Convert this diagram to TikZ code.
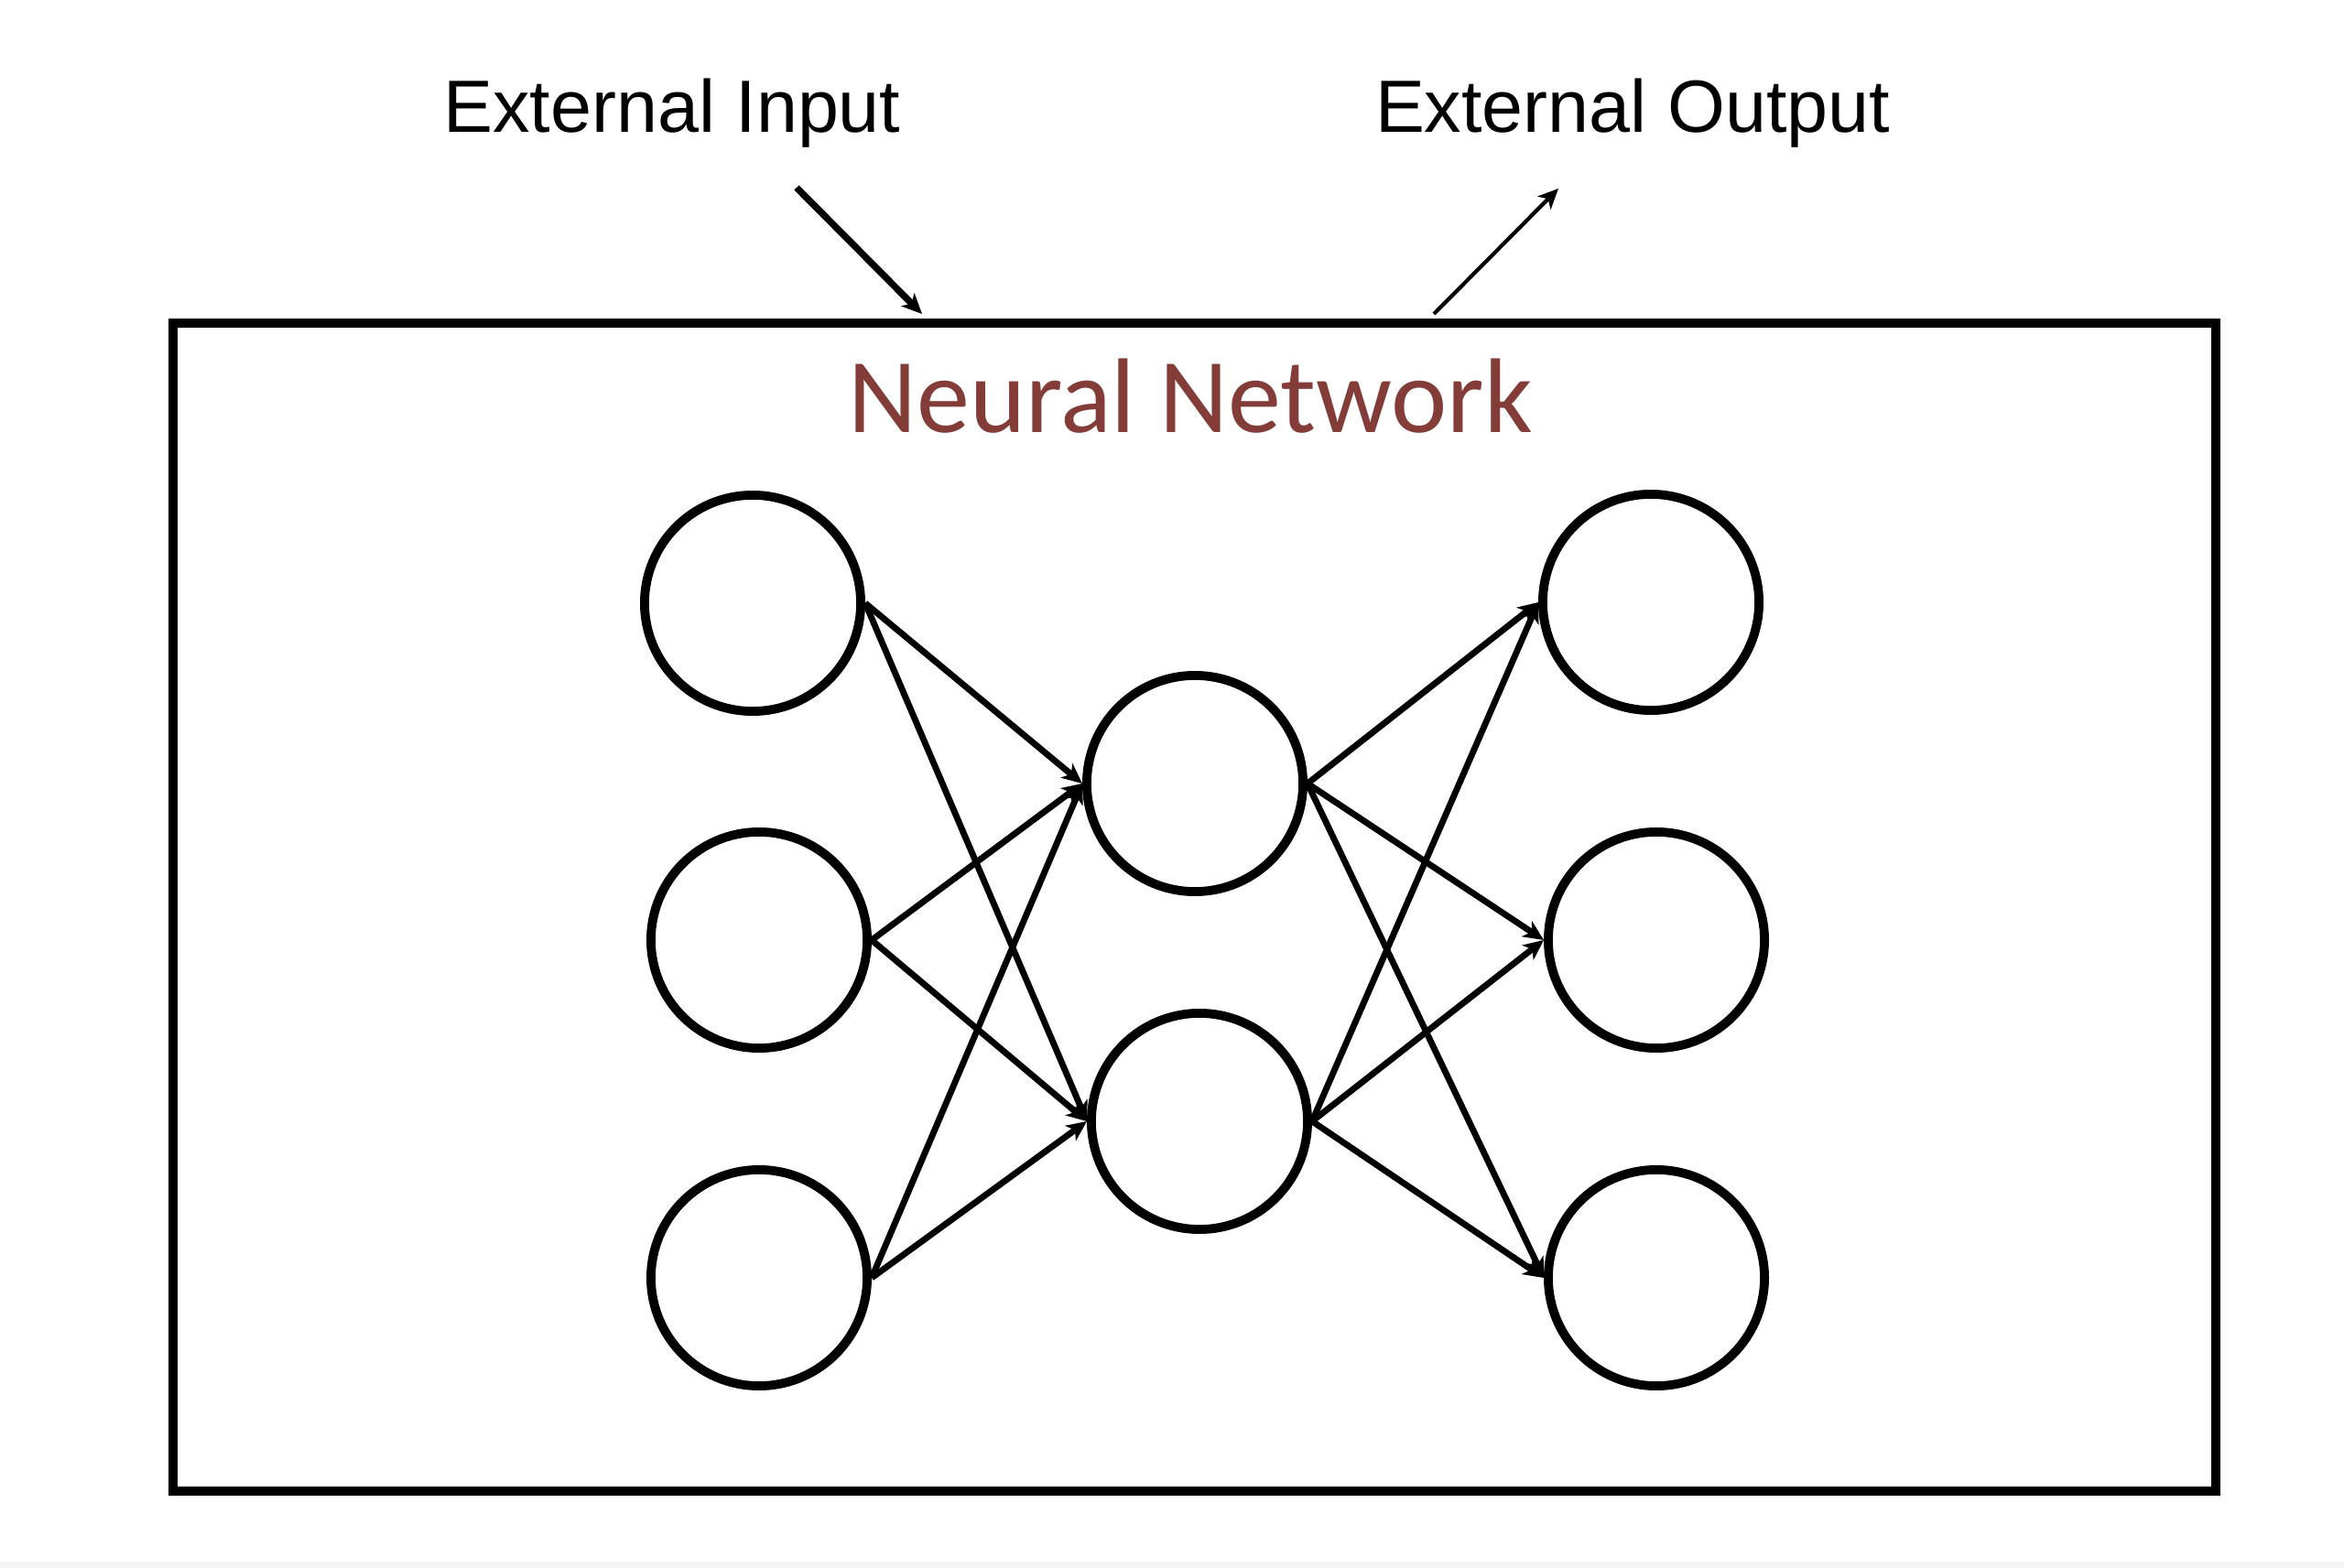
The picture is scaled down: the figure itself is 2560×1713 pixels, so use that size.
\documentclass[tikz,border=0pt]{standalone}
\usepackage{fontspec}
\setmainfont{Liberation Sans}
\newfontfamily\calibfont{Carlito}
\usetikzlibrary{arrows.meta}
\definecolor{nnred}{RGB}{132,60,57}
\begin{document}
\begin{tikzpicture}[x=0.01cm,y=-0.01cm,
  neuron/.style={circle,draw,line width=2.8pt,minimum size=2.36cm,inner sep=0pt},
  tipstyle/.style={-{Stealth[length=0.22cm,width=0.2cm,inset=0.06cm]}},
  conn/.style={tipstyle,line width=1.95pt},
  extlabel/.style={anchor=base,inner sep=0pt,font=\fontsize{23}{28}\selectfont},
  netbox/.style={draw,line width=2.85pt,rectangle,inner sep=0pt,anchor=north west}
]
\useasboundingbox (0,0) rectangle (2560,1713);
\fill[white] (0,0) rectangle (2560,1713);
\fill[black!4] (0,1706) rectangle (2560,1713);

% container
\node[netbox,minimum width=22.30cm,minimum height=12.75cm] (box) at (184,348) {};
\node[anchor=base,inner sep=0pt,text=nnred,font=\calibfont\fontsize{33}{40}\selectfont] (title) at (1300,473) {Neural Network};

% external labels
\node[extlabel] (extin) at (734,145) {External Input};
\node[extlabel] (extout) at (1783,145) {External Output};

\coordinate (instart) at (870,205);
\coordinate (inend) at (1007,343);
\coordinate (outstart) at (1566,343);
\coordinate (outend) at (1702,206);
\draw[tipstyle,line width=2.1pt] (instart) -- (inend);
\draw[tipstyle,line width=1.2pt] (outstart) -- (outend);

% neurons
\node[neuron] (l1) at (822,659) {};
\node[neuron] (l2) at (829,1027) {};
\node[neuron] (l3) at (829,1396) {};
\node[neuron] (m1) at (1305,856) {};
\node[neuron] (m2) at (1310,1225) {};
\node[neuron] (r1) at (1803,658) {};
\node[neuron] (r2) at (1809,1027) {};
\node[neuron] (r3) at (1809,1396) {};

% connections
\foreach \a in {l1,l2,l3}{
  \foreach \b in {m1,m2}{
    \draw[conn] (\a.east) -- (\b.west);
  }
}
\foreach \a in {m1,m2}{
  \foreach \b in {r1,r2,r3}{
    \draw[conn] (\a.east) -- (\b.west);
  }
}
\end{tikzpicture}
\end{document}
